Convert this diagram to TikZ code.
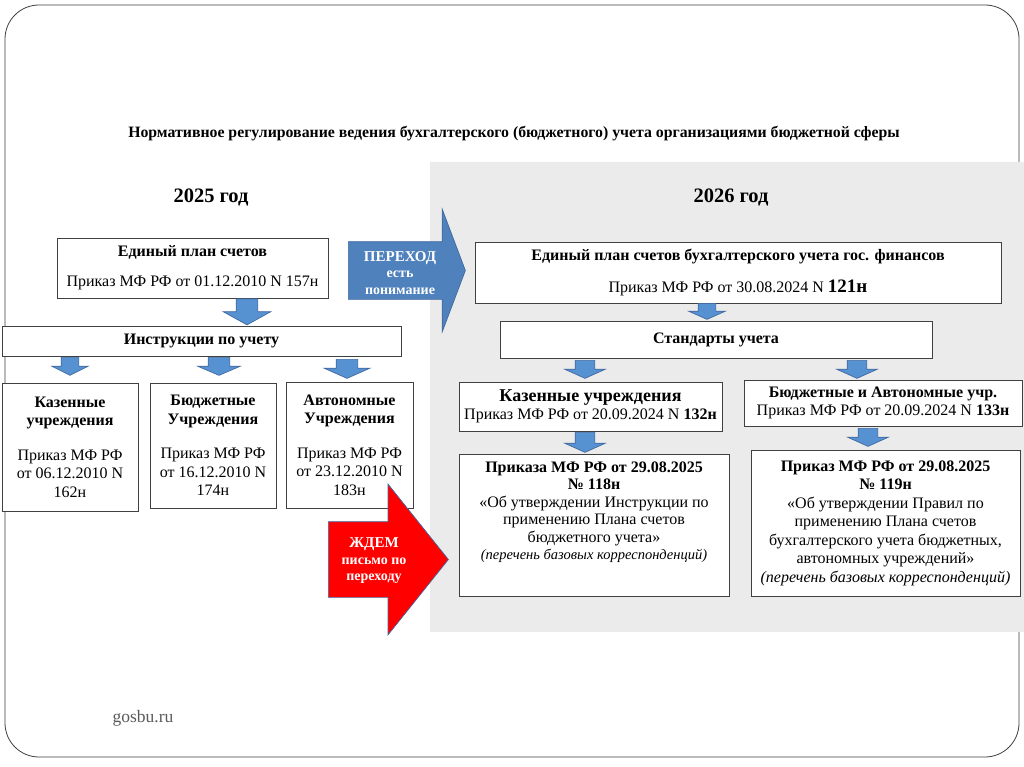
\documentclass[tikz,border=0pt]{standalone}
\usepackage{fontspec}
\setmainfont{Liberation Serif}
\usetikzlibrary{shapes.arrows,positioning,calc}
\definecolor{boxline}{RGB}{64,64,64}
\definecolor{bggray}{RGB}{235,235,235}
\definecolor{bigblue}{RGB}{79,129,189}
\definecolor{smallblue}{RGB}{86,146,210}
\definecolor{arrline}{RGB}{65,105,160}
\definecolor{redarr}{RGB}{255,0,0}
\definecolor{sitegray}{RGB}{90,90,90}
\tikzset{
	box/.style = {
		draw=boxline,
		fill=white,
		rectangle,
		line width=1pt,
		align=center,
		inner sep=2pt,
		font=\fontsize{16}{18.5}\selectfont
	},
	txt/.style = {
		align=center,
		inner sep=0pt,
		font=\fontsize{16}{17.5}\selectfont
	},
	blockarr/.style n args = {4}{
		single arrow,
		anchor=tail,
		line width=0.7pt,
		inner xsep=0pt,
		inner ysep={#2/2*1pt},
		minimum height={#1*1pt},
		minimum width={#3*1pt},
		single arrow head extend={(#3-#2)/2*1pt},
		single arrow tip angle={2*atan((#3/2)/#4)}
	},
	downarr/.style n args = {4}{
		blockarr={#1}{#2}{#3}{#4},
		rotate=-90,
		draw=arrline,
		fill=smallblue
	},
	arrtxt/.style = {
		text=white,
		align=center,
		inner sep=0pt,
		font=\fontsize{14}{16.5}\selectfont\bfseries
	}
}
\begin{document}
\begin{tikzpicture}[x=1pt, y=-1pt]

	% --- fondo y marco ---
	\fill[white] (0,0) rectangle (1024,767);
	\useasboundingbox (0,0) rectangle (1024,767);
	\draw[boxline, line width=0.8pt, rounded corners=34pt] (5,5) rectangle (1019,757);
	\fill[bggray] (430,162) rectangle (1024,632);

	% --- titulos ---
	\node[font=\fontsize{15.8}{18}\selectfont\bfseries] (title) at (514,134)
	{Нормативное регулирование ведения бухгалтерского (бюджетного) учета организациями бюджетной сферы};
	\node[font=\fontsize{20.5}{22}\selectfont\bfseries] (y2025) at (211,197) {2025 год};
	\node[font=\fontsize{20.5}{22}\selectfont\bfseries] (y2026) at (731,197) {2026 год};

	% --- 2025 ---
	\node[box, minimum width=271pt, minimum height=60pt] (epc) at (192.5,268)
	{\textbf{Единый план счетов}\\[11.5pt]Приказ МФ РФ от 01.12.2010 N 157н};
	\node[box, minimum width=399pt, minimum height=30pt] (instr) at (201.5,341)
	{\textbf{Инструкции по учету}};
	\node[box, minimum width=136pt, minimum height=128pt] (kaz) at (70,447)
	{\textbf{Казенные}\\\textbf{учреждения}\\[16pt]Приказ МФ РФ\\от 06.12.2010 N\\162н};
	\node[box, minimum width=126pt, minimum height=125pt] (budg) at (213,445.5)
	{\textbf{Бюджетные}\\\textbf{Учреждения}\\[16pt]Приказ МФ РФ\\от 16.12.2010 N\\174н};
	\node[box, minimum width=127pt, minimum height=126pt] (avt) at (349.5,445)
	{\textbf{Автономные}\\\textbf{Учреждения}\\[16pt]Приказ МФ РФ\\от 23.12.2010 N\\183н};

	\node[downarr={26}{21}{47}{13}] (a0) at (epc.south -| 247,0) {};
	\node[downarr={18}{17}{36}{9}] (a1) at (70,357) {};
	\node[downarr={18}{21}{42}{9}] (a2) at (219,357) {};
	\node[downarr={19}{21}{45}{10}] (a3) at (347,359) {};

	% --- 2026 ---
	\node[box, minimum width=526pt, minimum height=61pt] (epcgf) at (738,272.5)
	{\textbf{Единый план счетов бухгалтерского учета гос. финансов}\\[13pt]Приказ МФ РФ от 30.08.2024 N {\fontsize{19}{19}\selectfont\bfseries 121н}};
	\node[box, minimum width=432pt, minimum height=37pt] (std) at (716,339.5)
	{\textbf{Стандарты учета}};
	\node[box, minimum width=263pt, minimum height=49pt] (kaz2) at (590.5,406.5)
	{{\fontsize{18}{18}\selectfont\bfseries Казенные учреждения}\\Приказ МФ РФ от 20.09.2024 N \textbf{132н}};
	\node[box, minimum width=278pt, minimum height=46pt] (ba2) at (883,403)
	{\textbf{Бюджетные и Автономные учр.}\\Приказ МФ РФ от 20.09.2024 N \textbf{133н}};
	\node[box, minimum width=270pt, minimum height=142pt] (pr118) at (594,525) {};
	\node[txt, below=8pt of pr118.north] (pr118txt)
	{\textbf{Приказа МФ РФ от 29.08.2025}\\\textbf{№ 118н}\\«Об утверждении Инструкции по\\применению Плана счетов\\бюджетного учета»\\{\fontsize{14.5}{17.5}\selectfont\itshape (перечень базовых корреспонденций)}};
	\node[box, minimum width=269pt, minimum height=146pt] (pr119) at (885.5,523)
	{\textbf{Приказ МФ РФ от 29.08.2025}\\\textbf{№ 119н}\\«Об утверждении Правил по\\применению Плана счетов\\бухгалтерского учета бюджетных,\\автономных учреждений»\\\textit{(перечень базовых корреспонденций)}};

	\node[downarr={16}{17}{36}{8}] (b0) at (707,303) {};
	\node[downarr={18}{19}{40}{9}] (b1) at (585,360) {};
	\node[downarr={18}{19}{40}{9}] (b2) at (857,360) {};
	\node[downarr={20}{19}{40}{9}] (b3) at (585,432) {};
	\node[downarr={18}{19}{40}{9}] (b4) at (868,428) {};

	% --- flechas grandes ---
	\node[blockarr={117}{57}{122}{23}, draw=arrline, fill=bigblue] (perehod) at (348,270.5) {};
	\node[arrtxt] (perehodtxt) at (400,273)
	{{\fontsize{15}{16}\selectfont ПЕРЕХОД}\\есть\\понимание};
	\node[blockarr={120}{75}{150}{60}, draw=arrline, fill=redarr] (zhdem) at (328,559.5) {};
	\node[arrtxt] (zhdemtxt) at (374,561)
	{{\fontsize{15}{16}\selectfont ЖДЕМ}\\письмо по\\переходу};

	% --- pie ---
	\node[text=sitegray, font=\fontsize{17.5}{18}\selectfont] (site) at (143,718) {gosbu.ru};

\end{tikzpicture}
\end{document}
